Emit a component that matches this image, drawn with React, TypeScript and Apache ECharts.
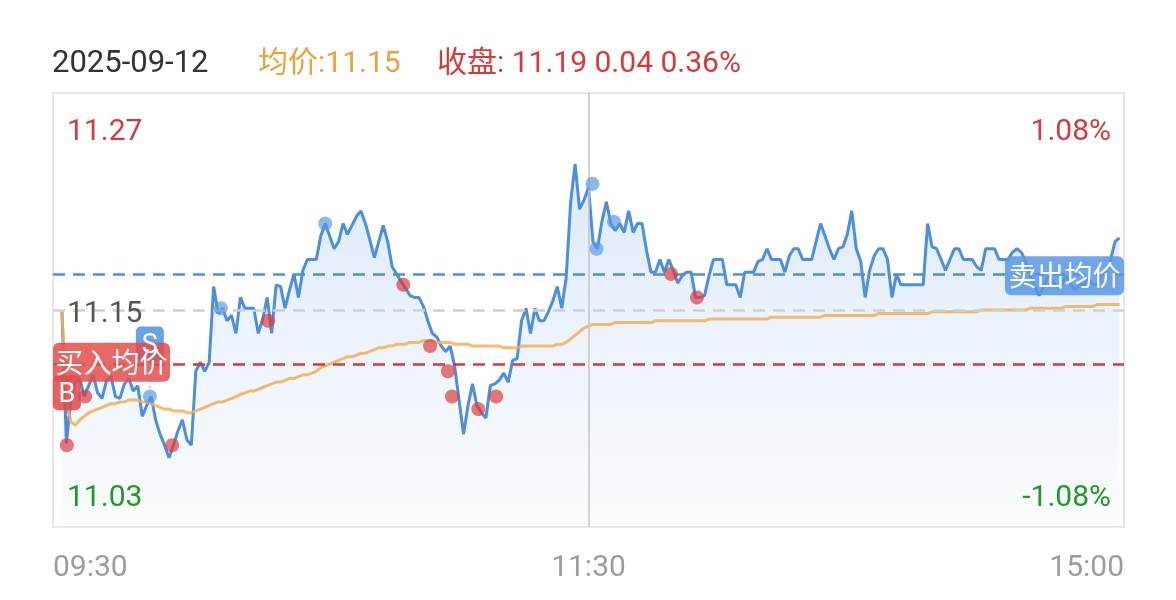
import React, { useEffect, useRef } from 'react';
import * as echarts from 'echarts';

const tradeDate = '2025-09-12';
const avgHeader = '均价:11.15';
const closeHeader = '收盘: 11.19 0.04 0.36%';
const prevClose = 11.15;
const limitPct = 0.0108;
const timeLabels = ['09:30', '11:30', '15:00'];
const highPriceLabel = '11.27';
const lowPriceLabel = '11.03';
const midPriceLabel = '11.15';
const highPctLabel = '1.08%';
const lowPctLabel = '-1.08%';
const buyAvgPrice = 11.121;
const sellAvgPrice = 11.169;
const buyAvgText = '买入均价';
const sellAvgText = '卖出均价';

// minute index 0 = 09:30 ... 120 = 11:30/13:00 ... 240 = 15:00
const prices: (number | null)[] = [
  null, null, 11.150, 11.076, 11.100, 11.110, 11.112, 11.102, 11.108, 11.114,
  11.104, 11.101, 11.111, 11.113, 11.102, 11.101, 11.109, 11.112, 11.105, 11.108,
  11.091, 11.097, 11.102, 11.089, 11.081, 11.075, 11.068, 11.075, 11.083, 11.089,
  11.078, 11.075, 11.116, 11.121, 11.116, 11.121, 11.163, 11.148, 11.151, 11.144,
  11.147, 11.137, 11.157, 11.151, 11.151, 11.151, 11.137, 11.145, 11.157, 11.137,
  11.164, 11.163, 11.151, 11.161, 11.170, 11.157, 11.172, 11.178, 11.178, 11.178,
  11.191, 11.198, 11.191, 11.184, 11.188, 11.198, 11.192, 11.197, 11.202, 11.205,
  11.198, 11.189, 11.179, 11.188, 11.197, 11.188, 11.174, 11.170, 11.166, 11.162,
  11.158, 11.157, 11.157, 11.152, 11.144, 11.137, 11.135, 11.130, 11.127, 11.130,
  11.119, 11.100, 11.081, 11.097, 11.109, 11.097, 11.093, 11.090, 11.108, 11.109,
  11.111, 11.115, 11.110, 11.122, 11.123, 11.144, 11.151, 11.137, 11.151, 11.144,
  11.144, 11.149, 11.155, 11.163, 11.151, 11.168, 11.210, 11.231, 11.206, 11.211,
  11.218, 11.188, 11.184, 11.199, 11.210, 11.198, 11.194, 11.198, 11.193, 11.205,
  11.193, 11.198, 11.198, 11.183, 11.171, 11.171, 11.178, 11.171, 11.178, 11.172,
  11.165, 11.169, 11.171, 11.171, 11.157, 11.157, 11.158, 11.169, 11.178, 11.178,
  11.178, 11.164, 11.164, 11.164, 11.157, 11.171, 11.171, 11.171, 11.177, 11.178,
  11.184, 11.178, 11.178, 11.178, 11.171, 11.180, 11.184, 11.184, 11.178, 11.178,
  11.178, 11.188, 11.198, 11.191, 11.184, 11.178, 11.184, 11.185, 11.192, 11.205,
  11.184, 11.177, 11.157, 11.172, 11.180, 11.184, 11.184, 11.178, 11.157, 11.170,
  11.164, 11.164, 11.164, 11.164, 11.164, 11.164, 11.198, 11.185, 11.184, 11.178,
  11.172, 11.178, 11.184, 11.184, 11.178, 11.178, 11.178, 11.174, 11.172, 11.184,
  11.184, 11.184, 11.178, 11.178, 11.178, 11.182, 11.184, 11.182, 11.177, 11.169,
  11.163, 11.158, 11.163, 11.169, 11.166, 11.163, 11.164, 11.169, 11.164, 11.161,
  11.164, 11.164, 11.167, 11.164, 11.164, 11.169, 11.172, 11.178, 11.188, 11.190,
  null,
];

const avgPrices: (number | null)[] = [
  null, null, 11.150, 11.100, 11.088, 11.086, 11.089, 11.091, 11.093, 11.094,
  11.095, 11.096, 11.097, 11.098, 11.098, 11.099, 11.099, 11.100, 11.100, 11.100,
  11.099, 11.099, 11.098, 11.097, 11.096, 11.095, 11.095, 11.094, 11.094, 11.094,
  11.093, 11.093, 11.094, 11.095, 11.096, 11.097, 11.098, 11.099, 11.099, 11.100,
  11.101, 11.102, 11.103, 11.104, 11.105, 11.105, 11.106, 11.107, 11.108, 11.109,
  11.110, 11.110, 11.111, 11.112, 11.112, 11.113, 11.114, 11.114, 11.115, 11.116,
  11.118, 11.119, 11.120, 11.121, 11.122, 11.123, 11.124, 11.124, 11.125, 11.126,
  11.126, 11.127, 11.128, 11.129, 11.129, 11.130, 11.130, 11.131, 11.131, 11.131,
  11.132, 11.132, 11.132, 11.133, 11.133, 11.133, 11.132, 11.132, 11.132, 11.132,
  11.131, 11.131, 11.131, 11.131, 11.130, 11.130, 11.130, 11.130, 11.130, 11.130,
  11.130, 11.129, 11.129, 11.129, 11.129, 11.130, 11.130, 11.130, 11.130, 11.130,
  11.130, 11.130, 11.130, 11.131, 11.131, 11.132, 11.134, 11.136, 11.138, 11.140,
  11.141, 11.142, 11.142, 11.142, 11.142, 11.142, 11.143, 11.143, 11.143, 11.143,
  11.143, 11.143, 11.143, 11.143, 11.143, 11.144, 11.144, 11.144, 11.144, 11.144,
  11.144, 11.144, 11.144, 11.144, 11.144, 11.144, 11.144, 11.145, 11.145, 11.145,
  11.145, 11.145, 11.145, 11.145, 11.145, 11.145, 11.145, 11.145, 11.145, 11.145,
  11.145, 11.146, 11.146, 11.146, 11.146, 11.146, 11.146, 11.146, 11.146, 11.146,
  11.146, 11.146, 11.146, 11.147, 11.147, 11.147, 11.147, 11.147, 11.147, 11.147,
  11.147, 11.147, 11.147, 11.147, 11.147, 11.148, 11.148, 11.148, 11.148, 11.148,
  11.148, 11.148, 11.148, 11.148, 11.148, 11.148, 11.148, 11.149, 11.149, 11.149,
  11.149, 11.149, 11.149, 11.149, 11.149, 11.149, 11.149, 11.149, 11.150, 11.150,
  11.150, 11.150, 11.150, 11.150, 11.150, 11.150, 11.150, 11.150, 11.150, 11.151,
  11.151, 11.151, 11.151, 11.151, 11.151, 11.151, 11.151, 11.152, 11.152, 11.152,
  11.152, 11.152, 11.152, 11.152, 11.153, 11.153, 11.153, 11.153, 11.153, 11.153,
  null,
];

// [minute index, price]
const buyPoints: [number, number][] = [
  [3.1, 11.075], [7.2, 11.102], [26.7, 11.075], [48.2, 11.144],
  [78.5, 11.164], [84.5, 11.130], [88.5, 11.116], [89.4, 11.102],
  [95.3, 11.095], [99.3, 11.102], [138.5, 11.170], [144.3, 11.157],
];
const sellPoints: [number, number][] = [
  [21.7, 11.102], [37.6, 11.151], [61.0, 11.198],
  [120.9, 11.220], [121.8, 11.184], [125.7, 11.199],
];

const FONT = 'Roboto, "Noto Sans CJK SC", sans-serif';
const BLUE = '#4a8fe0';
const RED = '#d83a3a';
const GREEN = '#1f9a22';
const ORANGE = 'rgba(240,176,88,0.85)';

function txt(x: number, y: number, text: string, fill: string, size: number, align = 'left', extra: any = {}) {
  return {
    type: 'text',
    x,
    y,
    z: 100,
    silent: true,
    style: {
      text,
      fill,
      fontSize: size,
      fontFamily: FONT,
      align,
      textAlign: align,
      verticalAlign: 'middle',
      textVerticalAlign: 'middle',
      ...extra,
    },
  };
}

export default function App() {
  const ref = useRef<HTMLDivElement>(null);
  useEffect(() => {
    const chart = echarts.init(ref.current!, null, { renderer: 'svg' });
    const toPairs = (arr: (number | null)[]) =>
      arr.map((v, i) => [i, v]).filter((d) => d[1] !== null);
    const dash = [12, 8];
    chart.setOption({
      animation: false,
      grid: {
        left: 53, right: 52, top: 93, bottom: 73,
        show: true, borderColor: '#e8e8e8', borderWidth: 2,
      },
      xAxis: {
        type: 'value', min: 0, max: 240, interval: 120,
        axisLine: { show: false }, axisTick: { show: false }, splitLine: { show: false },
        axisLabel: {
          color: '#9c9c9c', fontSize: 30, fontFamily: FONT, margin: 23,
          alignMinLabel: 'left', alignMaxLabel: 'right',
          formatter: (v: number) => timeLabels[Math.round(v / 120)] ?? '',
        },
      },
      yAxis: {
        type: 'value',
        min: prevClose * (1 - limitPct),
        max: prevClose * (1 + limitPct),
        axisLine: { show: false }, axisTick: { show: false },
        axisLabel: { show: false }, splitLine: { show: false },
      },
      series: [
        {
          type: 'line',
          data: toPairs(prices),
          showSymbol: false,
          z: 3,
          lineStyle: { color: BLUE, width: 3 },
          areaStyle: {
            origin: 'start',
            color: new echarts.graphic.LinearGradient(0, 0, 0, 1, [
              { offset: 0, color: 'rgba(74,143,224,0.26)' },
              { offset: 1, color: 'rgba(74,143,224,0.03)' },
            ]),
          },
          markLine: {
            silent: true,
            symbol: ['none', 'none'],
            label: { show: false },
            data: [
              { yAxis: prevClose, lineStyle: { color: '#cfcfcf', width: 2.5, type: dash } },
              { yAxis: sellAvgPrice, lineStyle: { color: BLUE, width: 2.5, type: dash } },
              { yAxis: buyAvgPrice, lineStyle: { color: RED, width: 2.5, type: dash } },
              { xAxis: 120, lineStyle: { color: '#c4c4c4', width: 1.5, type: 'solid' } },
            ],
          },
        },
        {
          type: 'line',
          data: toPairs(avgPrices),
          showSymbol: false,
          z: 4,
          lineStyle: { color: ORANGE, width: 3 },
        },
        {
          type: 'scatter',
          data: buyPoints,
          symbolSize: 14,
          z: 5,
          itemStyle: { color: 'rgba(222,56,56,0.85)' },
        },
        {
          type: 'scatter',
          data: sellPoints,
          symbolSize: 14,
          z: 5,
          itemStyle: { color: 'rgba(88,152,230,0.85)' },
        },
      ],
    });

    const px = (pt: [number, number]) => chart.convertToPixel({ seriesIndex: 0 }, pt) as number[];
    const gridLeft = 53;
    const gridRight = 1124;
    const yMid = px([0, prevClose])[1];
    const yTop = px([0, prevClose * (1 + limitPct)])[1];
    const yBot = px([0, prevClose * (1 - limitPct)])[1];
    const yBuy = px([0, buyAvgPrice])[1];
    const ySell = px([0, sellAvgPrice])[1];
    const b0 = px(buyPoints[0]);
    const s0 = px(sellPoints[0]);

    const marker = (p: number[], letter: string, fill: string, lineColor: string) => ({
      type: 'group',
      z: 90,
      children: [
        {
          type: 'line', z: 90, silent: true,
          shape: { x1: p[0], y1: p[1] - 35, x2: p[0], y2: p[1] - 6 },
          style: { stroke: lineColor, lineWidth: 1.5, lineDash: [3, 3] },
        },
        {
          type: 'rect', z: 90, silent: true,
          shape: { x: p[0] - 14, y: p[1] - 70, width: 28, height: 35, r: 5 },
          style: { fill },
        },
        txt(p[0], p[1] - 52, letter, '#ffffff', 27, 'center', {}),
      ],
    });

    const avgBox = (x: number, yc: number, w: number, text: string, fill: string) => ({
      type: 'group',
      z: 95,
      children: [
        {
          type: 'rect', z: 95, silent: true,
          shape: { x, y: yc - 19.5, width: w, height: 39, r: 6 },
          style: { fill },
        },
        { ...txt(x + w / 2, yc + 1, text, '#ffffff', 28, 'center'), z: 96 },
      ],
    });

    chart.setOption({
      graphic: [
        txt(52, 61, tradeDate, '#333333', 31),
        txt(258, 61, avgHeader, '#e9a33b', 30),
        txt(437, 61, closeHeader, RED, 30),
        txt(gridLeft + 14, yTop + 36, highPriceLabel, '#d23c3c', 30),
        txt(gridRight - 13, yTop + 36, highPctLabel, '#d23c3c', 30, 'right'),
        txt(gridLeft + 14, yBot - 32, lowPriceLabel, GREEN, 30),
        txt(gridRight - 13, yBot - 32, lowPctLabel, GREEN, 30, 'right'),
        txt(gridLeft + 14, yMid + 1, midPriceLabel, '#555555', 30),
        marker(b0, 'B', 'rgba(226,72,72,0.85)', 'rgba(170,90,170,0.8)'),
        marker(s0, 'S', 'rgba(88,152,230,0.9)', 'rgba(88,152,230,0.6)'),
        avgBox(gridLeft, yBuy, 117, buyAvgText, 'rgba(228,78,78,0.85)'),
        avgBox(gridRight - 119, ySell, 119, sellAvgText, 'rgba(88,152,230,0.85)'),
      ],
    });

    return () => chart.dispose();
  }, []);
  return <div ref={ref} style={{ position: 'fixed', left: 0, top: 0, width: 1176, height: 600 }} />;
}
